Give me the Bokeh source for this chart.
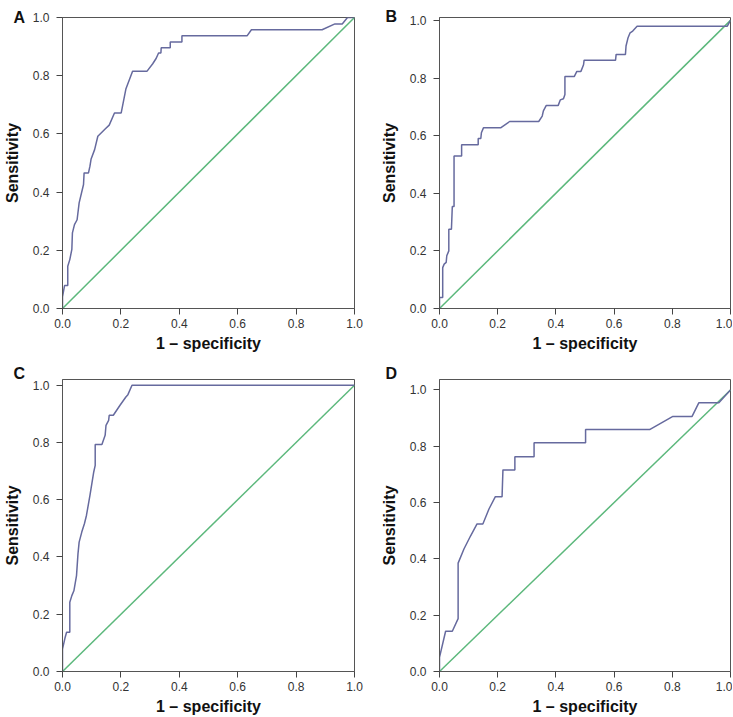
from bokeh.plotting import figure
from bokeh.models import Range1d, Label, FixedTicker
from bokeh.layouts import column, row
from bokeh.embed import file_html
from bokeh.resources import INLINE

# ---- data ----
a_fpr = [0.0, 0.0, 0.007, 0.018, 0.018, 0.025, 0.032, 0.034, 0.041, 0.05, 0.057, 0.072, 0.074, 0.089, 0.094,
         0.098, 0.11, 0.121, 0.146, 0.16, 0.178, 0.201, 0.217, 0.24, 0.289, 0.309, 0.321, 0.329, 0.337, 0.338,
         0.369, 0.369, 0.409, 0.409, 0.632, 0.647, 0.889, 0.933, 0.958, 0.976, 1.0]
a_tpr = [0.0, 0.04, 0.079, 0.079, 0.145, 0.168, 0.203, 0.26, 0.288, 0.305, 0.363, 0.426, 0.466, 0.466, 0.489,
         0.514, 0.546, 0.592, 0.617, 0.63, 0.672, 0.672, 0.754, 0.815, 0.815, 0.841, 0.86, 0.878, 0.878, 0.896,
         0.896, 0.916, 0.916, 0.937, 0.937, 0.958, 0.958, 0.978, 0.978, 1.0, 1.0]

b_fpr = [0.0, 0.0, 0.011, 0.011, 0.016, 0.023, 0.025, 0.032, 0.032, 0.041, 0.044, 0.05, 0.05, 0.076, 0.076,
         0.133, 0.133, 0.142, 0.144, 0.151, 0.21, 0.241, 0.341, 0.353, 0.357, 0.367, 0.408, 0.415, 0.426, 0.431,
         0.431, 0.463, 0.472, 0.486, 0.495, 0.497, 0.605, 0.607, 0.639, 0.641, 0.648, 0.655, 0.664, 0.679,
         0.989, 1.0]
b_tpr = [0.0, 0.038, 0.038, 0.142, 0.154, 0.16, 0.183, 0.2, 0.275, 0.275, 0.354, 0.354, 0.529, 0.529, 0.568,
         0.568, 0.59, 0.59, 0.61, 0.627, 0.627, 0.649, 0.649, 0.668, 0.686, 0.705, 0.705, 0.724, 0.728, 0.743,
         0.805, 0.805, 0.823, 0.823, 0.846, 0.862, 0.862, 0.882, 0.882, 0.911, 0.94, 0.957, 0.963, 0.98,
         0.98, 1.0]

c_fpr = [0.0, 0.0, 0.009, 0.014, 0.025, 0.025, 0.032, 0.039, 0.048, 0.053, 0.057, 0.066, 0.075, 0.082, 0.094,
         0.107, 0.112, 0.112, 0.135, 0.146, 0.149, 0.158, 0.16, 0.174, 0.197, 0.217, 0.224, 0.238, 1.0]
c_tpr = [0.0, 0.078, 0.119, 0.137, 0.137, 0.242, 0.265, 0.282, 0.335, 0.411, 0.452, 0.487, 0.516, 0.545, 0.615,
         0.697, 0.72, 0.793, 0.793, 0.825, 0.86, 0.877, 0.895, 0.895, 0.93, 0.959, 0.967, 1.0, 1.0]

d_fpr = [0.0, 0.0, 0.021, 0.044, 0.064, 0.064, 0.084, 0.107, 0.129, 0.149, 0.17, 0.192, 0.215, 0.218, 0.259,
         0.259, 0.325, 0.325, 0.502, 0.502, 0.722, 0.802, 0.868, 0.891, 0.96, 1.0]
d_tpr = [0.0, 0.05, 0.143, 0.143, 0.188, 0.385, 0.435, 0.482, 0.524, 0.524, 0.577, 0.621, 0.621, 0.716, 0.716,
         0.763, 0.763, 0.812, 0.812, 0.859, 0.859, 0.906, 0.906, 0.954, 0.954, 1.0]

diag_x = [0.0, 1.0]
diag_y = [0.0, 1.0]
ticks = [0.0, 0.2, 0.4, 0.6, 0.8, 1.0]
tick_labels = {0.0: "0.0", 0.2: "0.2", 0.4: "0.4", 0.6: "0.6", 0.8: "0.8", 1.0: "1.0"}

panels = [
    ("A", a_fpr, a_tpr, 1.0),
    ("B", b_fpr, b_tpr, 1.01),
    ("C", c_fpr, c_tpr, 1.02),
    ("D", d_fpr, d_tpr, 1.037),
]

BLUE = "#666a9e"
GREEN = "#5cb87c"
FONT = "Liberation Sans"

# layout geometry: (left, right, top, bottom, frame_w, frame_h, letter_dx, letter_dy)
geom = {
    "A": (49, 23, 6, 54, 292, 291, 0, -3),
    "B": (60, 2, 7, 54, 291, 291, 6, -3),
    "C": (49, 23, 17, 38, 292, 292, 0, 2),
    "D": (60, 2, 17, 38, 291, 292, 6, 2),
}


def make(letter, xs, ys, ymax):
    left, right, top, bottom, fw, fh, ldx, ldy = geom[letter]
    p = figure(frame_width=fw, frame_height=fh, output_backend="svg", toolbar_location=None,
               x_range=Range1d(0, 1), y_range=Range1d(0, ymax),
               min_border_left=left, min_border_right=right, min_border_top=top, min_border_bottom=bottom,
               background_fill_color="white", border_fill_color="white")
    p.xgrid.visible = False
    p.ygrid.visible = False
    p.outline_line_color = "#555555"
    p.outline_line_width = 1
    for ax in (p.xaxis[0], p.yaxis[0]):
        ax.ticker = FixedTicker(ticks=ticks)
        ax.major_label_overrides = tick_labels
        ax.minor_tick_line_color = None
        ax.major_tick_in = 0
        ax.major_tick_out = 6
        ax.major_tick_line_color = "#444444"
        ax.axis_line_color = "#555555"
        ax.major_label_text_font = FONT
        ax.major_label_text_font_size = "12px"
        ax.major_label_text_color = "#333333"
        ax.axis_label_text_font = FONT
        ax.axis_label_text_font_style = "bold"
        ax.axis_label_text_font_size = "16px"
        ax.axis_label_text_color = "#111111"
    p.xaxis.axis_label = "1 – specificity"
    p.yaxis.axis_label = "Sensitivity"
    p.xaxis.major_label_standoff = 4
    p.xaxis.axis_label_standoff = 4
    p.yaxis.major_label_standoff = 7
    p.yaxis.axis_label_standoff = 9

    p.line(diag_x, diag_y, line_color=GREEN, line_width=1.5)
    p.line(xs, ys, line_color=BLUE, line_width=1.5)

    # panel letter in the top border, offsets in pixels from the canvas corner
    p.add_layout(Label(x=ldx - left, y=top - ldy, x_units="screen", y_units="screen", text=letter,
                       text_font=FONT, text_font_style="bold", text_font_size="16px",
                       text_align="left", text_baseline="top", text_color="#111111"), "above")
    return p


figs = [make(*pn) for pn in panels]
layout = column(row(figs[0], figs[1]), row(figs[2], figs[3]))

with open("out.html", "w") as f:
    f.write(file_html(layout, INLINE))
